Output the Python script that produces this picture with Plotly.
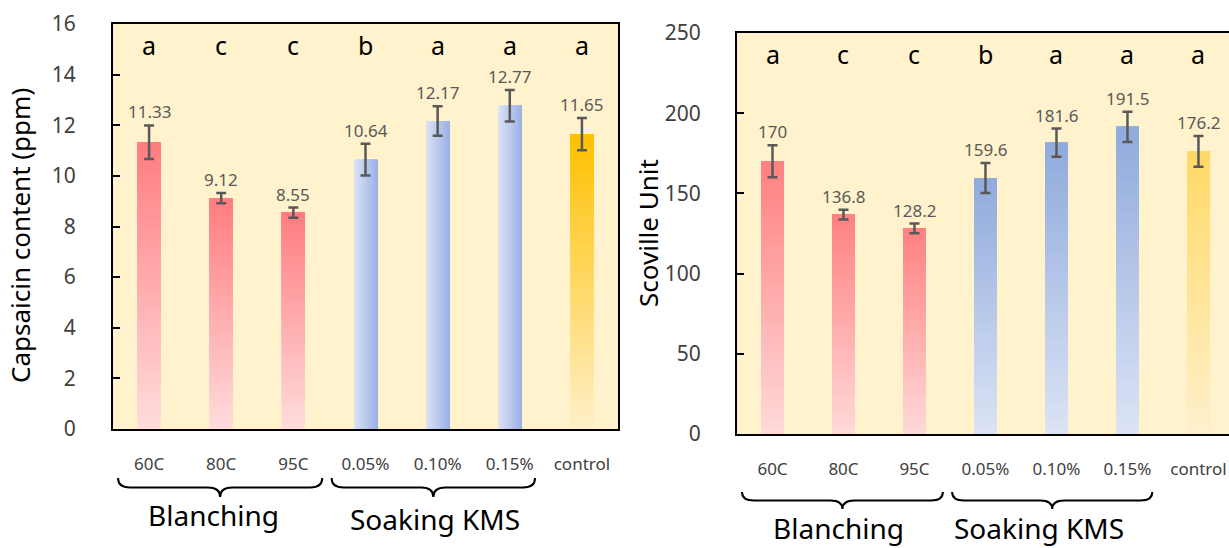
import plotly.graph_objects as go

# ---------------- data ----------------
categories = ["60C", "80C", "95C", "0.05%", "0.10%", "0.15%", "control"]
groups = ["Blanching", "Blanching", "Blanching", "Soaking KMS", "Soaking KMS", "Soaking KMS", "control"]
letters = ["a", "c", "c", "b", "a", "a", "a"]

capsaicin = [11.33, 9.12, 8.55, 10.64, 12.17, 12.77, 11.65]
capsaicin_err = [0.66, 0.20, 0.20, 0.63, 0.58, 0.62, 0.64]
capsaicin_text = ["11.33", "9.12", "8.55", "10.64", "12.17", "12.77", "11.65"]

scoville = [170, 136.8, 128.2, 159.6, 181.6, 191.5, 176.2]
scoville_err = [10.0, 3.0, 3.0, 9.4, 8.8, 9.4, 9.6]
scoville_text = ["170", "136.8", "128.2", "159.6", "181.6", "191.5", "176.2"]

# ---------------- styles ----------------
W_PX, H_PX = 1229, 548
FONT = "Noto Sans"
BAR_W = 0.32
N_SEG = 40

left_grad = {
    "Blanching": ("v", "#FFDCDC", "#FF7C80"),
    "Soaking KMS": ("h", "#DDE3F6", "#9DB1E6"),
    "control": ("v", "#FFF0C8", "#FFC000"),
}
right_grad = {
    "Blanching": ("v", "#FFD9D9", "#FF8080"),
    "Soaking KMS": ("v", "#DCE4F5", "#8FAADC"),
    "control": ("v", "#FFF0CC", "#FFD966"),
}


def hex2rgb(h):
    h = h.lstrip("#")
    return tuple(int(h[i:i + 2], 16) for i in (0, 2, 4))


def lerp(c0, c1, t):
    a, b = hex2rgb(c0), hex2rgb(c1)
    return "rgb(%d,%d,%d)" % tuple(round(a[k] + (b[k] - a[k]) * t) for k in range(3))


fig = go.Figure()
annotations = []


def add_chart(values, errs, texts, grads, xa, ya):
    for i in range(N_SEG):
        t = (i + 0.5) / N_SEG
        bases, ys, widths, offsets, cols = [], [], [], [], []
        for v, g in zip(values, groups):
            d, c0, c1 = grads[g]
            if d == "v":
                b = v * i / N_SEG
                bases.append(b)
                ys.append(v - b)
                widths.append(BAR_W)
                offsets.append(-BAR_W / 2)
            else:
                bases.append(0)
                ys.append(v)
                widths.append(BAR_W * (1 - i / N_SEG))
                offsets.append(-BAR_W / 2 + BAR_W * i / N_SEG)
            cols.append(lerp(c0, c1, t))
        fig.add_trace(go.Bar(
            x=categories, y=ys, base=bases, width=widths, offset=offsets,
            marker=dict(color=cols, line=dict(width=0)),
            hoverinfo="skip", xaxis=xa, yaxis=ya, showlegend=False))
    # error bars (transparent carrier bar)
    fig.add_trace(go.Bar(
        x=categories, y=values, width=BAR_W,
        marker=dict(color="rgba(0,0,0,0)", line=dict(width=0)),
        error_y=dict(type="data", array=errs, color="#595959", thickness=2.5, width=5),
        xaxis=xa, yaxis=ya, showlegend=False))
    # value labels above the error bars
    for c, v, e, tx in zip(categories, values, errs, texts):
        annotations.append(dict(x=c, y=v + e, xref=xa, yref=ya, text=tx, showarrow=False,
                                xanchor="center", yanchor="bottom", yshift=0,
                                font=dict(family=FONT, size=17, color="#595959")))


add_chart(capsaicin, capsaicin_err, capsaicin_text, left_grad, "x", "y")
add_chart(scoville, scoville_err, scoville_text, right_grad, "x2", "y2")

L_DOM_X = [113 / W_PX, 618 / W_PX]
L_DOM_Y = [(H_PX - 429) / H_PX, (H_PX - 24) / H_PX]
R_DOM_X = [737 / W_PX, 1.0]
R_DOM_Y = [(H_PX - 434) / H_PX, (H_PX - 33) / H_PX]
L_RANGE = [-0.5, 6.5]
R_RANGE = [-0.5, 6.43]

axis_common = dict(showgrid=False, zeroline=False, showline=True, linecolor="black", linewidth=2,
                   automargin=False)

fig.update_layout(
    width=W_PX, height=H_PX, autosize=False,
    margin=dict(l=0, r=0, t=0, b=0, pad=0, autoexpand=False),
    paper_bgcolor="white", plot_bgcolor="#FFF2CC",
    barmode="overlay", showlegend=False,
    font=dict(family=FONT),
    xaxis=dict(domain=L_DOM_X, range=L_RANGE, type="category", anchor="y", mirror=True, ticks="",
               tickfont=dict(family=FONT, size=17, color="#404040"), ticklabelstandoff=19, **axis_common),
    yaxis=dict(domain=L_DOM_Y, range=[0, 16], dtick=2, anchor="x", mirror=True, ticks="inside",
               ticklen=7, tickwidth=2, tickcolor="black",
               tickfont=dict(family=FONT, size=21, color="#404040"), ticklabelstandoff=31, **axis_common),
    xaxis2=dict(domain=R_DOM_X, range=R_RANGE, type="category", anchor="y2", mirror=True, ticks="",
                tickfont=dict(family=FONT, size=17, color="#404040"), ticklabelstandoff=19, **axis_common),
    yaxis2=dict(domain=R_DOM_Y, range=[0, 250], dtick=50, anchor="x2", mirror=False, ticks="inside",
                ticklen=7, tickwidth=2, tickcolor="black",
                tickfont=dict(family=FONT, size=21, color="#404040"), ticklabelstandoff=30, **axis_common),
)

# significance letters
for xa, ya in (("x", "y"), ("x2", "y2")):
    for c, l in zip(categories, letters):
        annotations.append(dict(x=c, y=0.948, xref=xa, yref=ya + " domain", text=l, showarrow=False,
                                xanchor="center", yanchor="middle",
                                font=dict(family=FONT, size=25, color="black")))

# axis titles
annotations.append(dict(x=20 / W_PX, y=1 - 236 / H_PX, xref="paper", yref="paper", textangle=-90,
                        text="Capsaicin content (ppm)", showarrow=False, xanchor="center", yanchor="middle",
                        font=dict(family=FONT, size=26, color="black")))
annotations.append(dict(x=648 / W_PX, y=1 - 233 / H_PX, xref="paper", yref="paper", textangle=-90,
                        text="Scoville Unit", showarrow=False, xanchor="center", yanchor="middle",
                        font=dict(family=FONT, size=26, color="black")))

shapes = []


def to_paper_x(dom, rng, pos):
    return dom[0] + (pos - rng[0]) / (rng[1] - rng[0]) * (dom[1] - dom[0])


def brace(x0, x1, ytop_px, ybot_px):
    yt = 1 - ytop_px / H_PX
    yb = 1 - ybot_px / H_PX
    ym = (yt + yb) / 2
    xm = (x0 + x1) / 2
    r = 12 / W_PX
    p = (f"M {x0},{yt} Q {x0},{ym} {x0 + r},{ym} L {xm - r},{ym} Q {xm},{ym} {xm},{yb} "
         f"Q {xm},{ym} {xm + r},{ym} L {x1 - r},{ym} Q {x1},{ym} {x1},{yt}")
    return dict(type="path", path=p, xref="paper", yref="paper", line=dict(color="black", width=2))


brace_spans = [(-0.43, 2.40), (2.53, 5.35)]
group_names = ["Blanching", "Soaking KMS"]

for (a, b) in brace_spans:
    shapes.append(brace(to_paper_x(L_DOM_X, L_RANGE, a), to_paper_x(L_DOM_X, L_RANGE, b), 478, 497))
for name, pos, ypx in zip(group_names, [0.89, 3.97], [515, 519]):
    annotations.append(dict(x=pos, y=1 - ypx / H_PX, xref="x", yref="paper", text=name, showarrow=False,
                            xanchor="center", yanchor="middle",
                            font=dict(family=FONT, size=28, color="black")))
for (a, b) in brace_spans:
    shapes.append(brace(to_paper_x(R_DOM_X, R_RANGE, a), to_paper_x(R_DOM_X, R_RANGE, b), 492, 509))
for name, pos, ypx in zip(group_names, [0.93, 3.75], [528, 528]):
    annotations.append(dict(x=pos, y=1 - ypx / H_PX, xref="x2", yref="paper", text=name, showarrow=False,
                            xanchor="center", yanchor="middle",
                            font=dict(family=FONT, size=28, color="black")))

fig.update_layout(annotations=annotations, shapes=shapes)

fig.write_html("out.html", config={"displayModeBar": False},
               post_script="document.body.style.margin='0';document.body.style.overflow='hidden';")
